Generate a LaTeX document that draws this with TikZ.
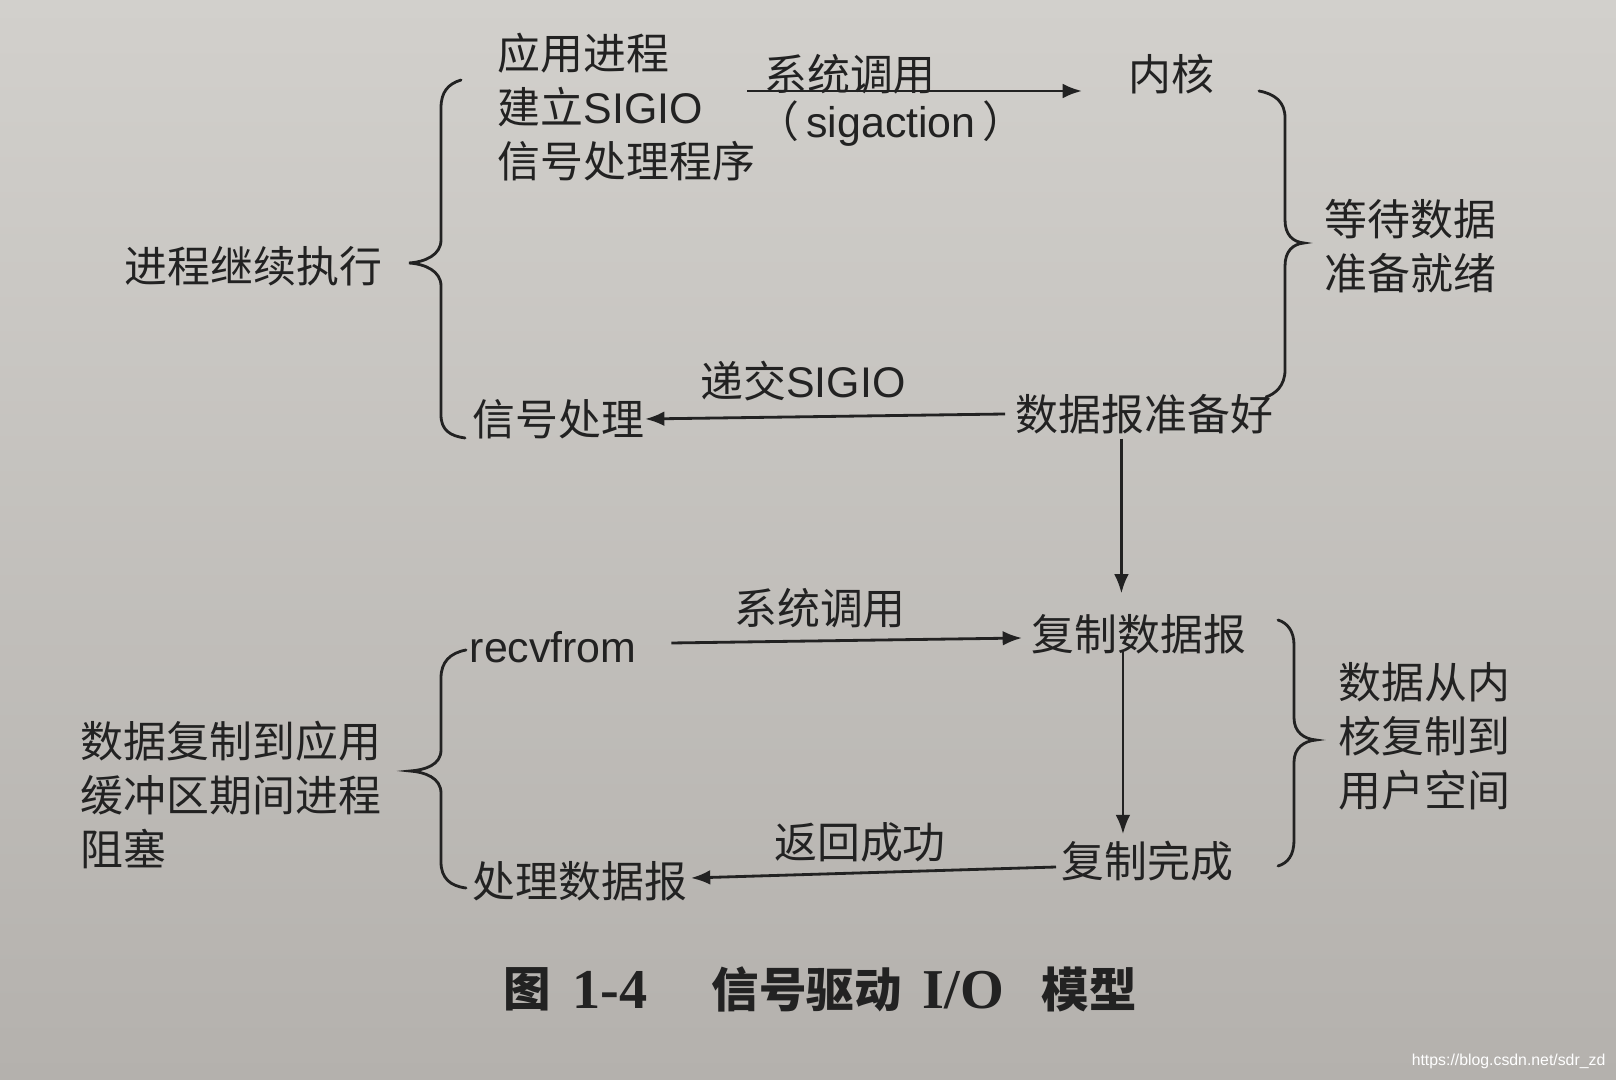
\documentclass[tikz,border=0pt]{standalone}
\usepackage{fontspec}
\setmainfont{Noto Sans CJK SC}
\newfontfamily\lat{Liberation Sans}
\newfontfamily\latserif{Liberation Serif}
\usetikzlibrary{arrows.meta,calc}
\definecolor{paper}{RGB}{210,208,204}
\definecolor{paperdark}{RGB}{180,177,173}
\definecolor{ink}{RGB}{34,34,34}
\begin{document}
\begin{tikzpicture}[x=0.01cm,y=-0.01cm,
  txt/.style={inner sep=0pt, text=ink, font=\fontsize{12.2}{15.4}\selectfont, align=left},
  lbl/.style={inner sep=0pt, text=ink, font=\fontsize{12.2}{15.4}\selectfont},
  arr/.style={draw=ink, line width=0.8pt, -{Latex[length=5.5pt,width=4.2pt]}},
  brc/.style={draw=ink, line width=0.8pt, line cap=round},
  captxt/.style={inner sep=0pt, text=ink, font=\fontsize{13.5}{16}\selectfont\bfseries},
  caplat/.style={inner sep=0pt, text=ink, font=\latserif\fontsize{16}{18}\selectfont\bfseries}]
\fill[top color=paper, bottom color=paperdark] (0,0) rectangle (1616,1080);
\useasboundingbox (0,0) rectangle (1616,1080);

% upper part
\node[txt, anchor=west] (app) at (497,107) {应用进程\\建立{\lat SIGIO}\\信号处理程序};
\node[lbl, anchor=west] (kern) at (1128,74) {内核};
\node[lbl] (l1) at (850,74) {系统调用};
\node[lbl] (l2) at (891,124) {（{\lat\,sigaction\,}）};
\node[lbl, anchor=east] (cont) at (383,266) {进程继续执行};
\node[txt, anchor=west] (wait) at (1324,246) {等待数据\\准备就绪};
\node[lbl, anchor=west] (rdy) at (1015,414) {数据报准备好};
\node[lbl, anchor=west] (sig) at (472,419) {信号处理};
\node[lbl] (l3) at (803,381) {递交{\lat SIGIO}};

% lower part
\node[lbl, anchor=west] (cpy) at (1031,634) {复制数据报};
\node[lbl, anchor=west] (recv) at (469,647) {\lat recvfrom};
\node[lbl] (l4) at (820,608) {系统调用};
\node[lbl, anchor=west] (done) at (1061,861) {复制完成};
\node[lbl, anchor=west] (proc) at (472,881) {处理数据报};
\node[lbl] (l5) at (860,842) {返回成功};
\node[txt, anchor=west] (cblk) at (80,795) {数据复制到应用\\缓冲区期间进程\\阻塞};
\node[txt, anchor=west] (kblk) at (1338,736) {数据从内\\核复制到\\用户空间};

% caption
\node[captxt, anchor=west] (c1) at (503,989) {图};
\node[caplat, anchor=west] (c2) at (572,990) {1-4};
\node[captxt, anchor=west] (c3) at (711,989) {信号驱动};
\node[caplat, anchor=west] (c4) at (922,990) {I/O};
\node[captxt, anchor=west] (c5) at (1041,989) {模型};

\node[anchor=east, inner sep=0pt, text=white, font=\lat\fontsize{4.5}{5}\selectfont] (wm) at (1606,1061) {https://blog.csdn.net/sdr\_zd};

% arrows
\coordinate (a1s) at (747,91);
\coordinate (a1e) at (1082,91);
\draw[arr] (a1s) -- (a1e);
\draw[arr] ($(rdy.west)+(-10,0)$) -- (sig.east);
\coordinate (v1) at ($(rdy.south)+(-23,4)$);
\draw[arr] (v1) -- ($(v1 |- cpy.north)+(0,-20)$);
\draw[arr] ($(recv.east)+(34,-4)$) -- ($(cpy.west)+(-9,4)$);
\coordinate (v2) at ($(cpy.south)+(-16,-4)$);
\draw[arr] (v2) -- ($(v2 |- done.north)+(0,-6)$);
\draw[arr] ($(done.west)+(-5,6)$) -- ($(proc.east)+(3,-3)$);

% braces
\draw[brc] (461,80) .. controls (448,84) and (441,92) .. (441,108) -- (441,240)
  .. controls (441,255) and (425,262) .. (409,263)
  .. controls (425,264) and (441,271) .. (441,286) -- (441,415)
  .. controls (441,430) and (450,436) .. (465,438);
\draw[brc] (1259,91) .. controls (1275,94) and (1285,102) .. (1285,118) -- (1285,220)
  .. controls (1285,235) and (1293,242) .. (1304,243)
  .. controls (1293,244) and (1285,251) .. (1285,266) -- (1285,370)
  .. controls (1285,386) and (1275,394) .. (1266,397);
\draw[brc] (466,650) .. controls (450,653) and (441,662) .. (441,678) -- (441,750)
  .. controls (441,765) and (425,770) .. (410,771)
  .. controls (425,772) and (441,778) .. (441,793) -- (441,862)
  .. controls (441,878) and (450,886) .. (466,888);
\draw[brc] (1278,620) .. controls (1288,623) and (1294,632) .. (1294,645) -- (1294,718)
  .. controls (1294,732) and (1304,739) .. (1316,740)
  .. controls (1304,741) and (1294,748) .. (1294,762) -- (1294,840)
  .. controls (1294,855) and (1288,863) .. (1278,866);
\end{tikzpicture}
\end{document}
